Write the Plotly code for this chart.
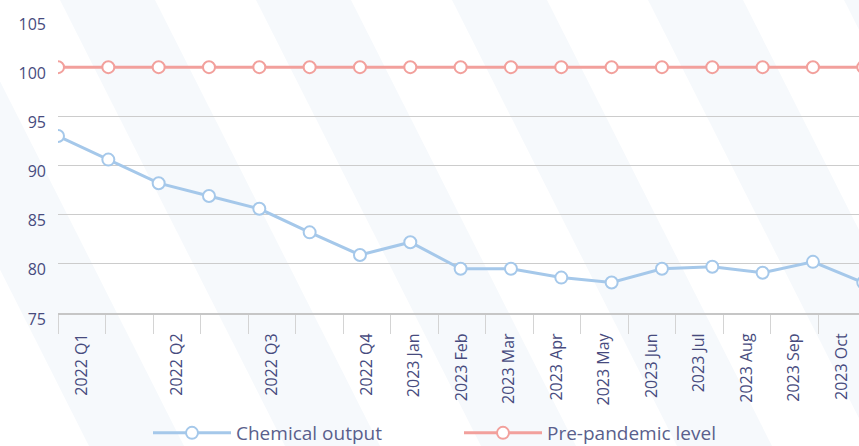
import plotly.graph_objects as go

# ---- data ----
categories = ["2022 Q1", "", "2022 Q2", "", "2022 Q3", "", "2022 Q4",
              "2023 Jan", "2023 Feb", "2023 Mar", "2023 Apr", "2023 May",
              "2023 Jun", "2023 Jul", "2023 Aug", "2023 Sep", "2023 Oct"]
chemical_output = [93.0, 90.6, 88.2, 86.9, 85.6, 83.2, 80.9, 82.2, 79.5, 79.5,
                   78.6, 78.1, 79.5, 79.7, 79.1, 80.2, 78.1]
pre_pandemic = [100] * 17
y_ticks = [75, 80, 85, 90, 95, 100, 105]

W, H = 859, 446
ML, MR, MT, MB = 58, 0, 18, 133
PW = W - ML - MR
PH = H - MT - MB

BLUE = "#a5c8ea"
PINK = "#f2a09c"
TXT = "#474b7e"
LEG_TXT = "#5a5f8c"
FONT = "Open Sans"

point_idx = list(range(len(chemical_output)))

fig = go.Figure()
# empty trace so the category (label) axis gets drawn
fig.add_trace(go.Scatter(x=[], y=[], xaxis="x", yaxis="y", showlegend=False,
                         hoverinfo="skip"))
fig.add_trace(go.Scatter(
    x=point_idx, y=chemical_output, name="Chemical output", xaxis="x2",
    mode="lines+markers",
    line=dict(color=BLUE, width=3),
    marker=dict(symbol="circle", size=12, color="white",
                line=dict(color=BLUE, width=2)),
))
fig.add_trace(go.Scatter(
    x=point_idx, y=pre_pandemic, name="Pre-pandemic level", xaxis="x2",
    mode="lines+markers",
    line=dict(color=PINK, width=3),
    marker=dict(symbol="circle", size=12, color="white",
                line=dict(color=PINK, width=2)),
))

# decorative diagonal stripes (background)
def px2paper(px, py):
    return (px - ML) / PW, (H - MB - py) / PH

shapes = []
for x0 in [-136, 60, 256, 452, 648, 844]:
    wdt, off = 95, 225
    pts = [(x0, 0), (x0 + wdt, 0), (x0 + wdt + off, H), (x0 + off, H)]
    conv = [px2paper(a, b) for a, b in pts]
    path = "M " + " L ".join(f"{a:.4f},{b:.4f}" for a, b in conv) + " Z"
    shapes.append(dict(type="path", path=path, xref="paper", yref="paper",
                       fillcolor="#f6f9fc", line=dict(width=0), layer="below"))

n_cat = PW / 47.5
n_pts = PW / 50.33

fig.update_layout(
    width=W, height=H,
    margin=dict(l=ML, r=MR, t=MT, b=MB, autoexpand=False),
    paper_bgcolor="white", plot_bgcolor="rgba(0,0,0,0)",
    font=dict(family=FONT, size=16, color=TXT),
    shapes=shapes,
    showlegend=True,
    legend=dict(orientation="h", x=(148 - ML) / PW, xanchor="left",
                y=(H - MB - 433) / PH, yanchor="middle",
                font=dict(size=19, color=LEG_TXT, family=FONT),
                itemwidth=78, entrywidth=218, entrywidthmode="pixels",
                bgcolor="rgba(0,0,0,0)"),
    xaxis=dict(
        range=[0, n_cat], tickmode="array",
        tickvals=[i + 0.5 for i in range(len(categories))],
        ticktext=categories, tickangle=-90, ticks="",
        ticklabelstandoff=12, automargin=False,
        showgrid=False, zeroline=False,
        showline=True, linecolor="#c6c6c6", linewidth=2,
        minor=dict(ticks="outside", ticklen=19, tickcolor="#d4d4d4",
                   tickwidth=1, tick0=0, dtick=1, showgrid=False),
        tickfont=dict(size=16, color=TXT, family=FONT),
        fixedrange=True,
    ),
    xaxis2=dict(range=[0, n_pts], overlaying="x", visible=False,
                fixedrange=True),
    yaxis=dict(
        range=[75, 105], tickmode="array", tickvals=y_ticks,
        showgrid=True, gridcolor="#cccccc", gridwidth=1,
        zeroline=False, ticks="", ticklabelstandoff=11,
        ticklabelshift=6, automargin=False,
        tickfont=dict(size=16, color=TXT, family=FONT),
        fixedrange=True,
    ),
)

fig.write_html("out.html", config={"displayModeBar": False},
               post_script="document.body.style.margin='0';"
                           "document.body.style.overflow='hidden';")
